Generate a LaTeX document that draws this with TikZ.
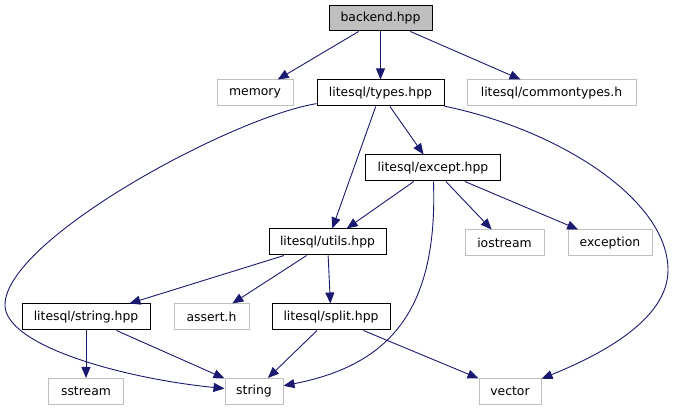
\documentclass[tikz,border=0pt]{standalone}
\usepackage{fontspec}
\setmainfont{DejaVu Sans}
\usepackage{tikz}
\usetikzlibrary{arrows.meta}
\definecolor{edgeblue}{HTML}{191970}
\definecolor{extgray}{HTML}{BFBFBF}
\tikzset{
  hfile/.style={draw=black, line width=1pt, minimum height=26pt, inner sep=0pt,
    font=\fontsize{12.4}{14}\selectfont, fill=white},
  extfile/.style={hfile, draw=extgray},
  rootfile/.style={hfile, fill=extgray},
  dep/.style={-{Triangle[length=11pt,width=9pt]}, line width=0.9pt, draw=edgeblue},
}
\begin{document}
\begin{tikzpicture}[x=1pt,y=-1pt]
\useasboundingbox (0,0) rectangle (678,411);
% row 1
\node[rootfile, minimum width=103pt, minimum height=25pt] (backend) at (380.5,18.5) {backend.hpp};
% row 2
\node[extfile, minimum width=76pt] (memory) at (255,93) {memory};
\node[hfile, minimum width=127pt] (types) at (380.5,93) {litesql/types.hpp};
\node[extfile, minimum width=169pt] (commontypes) at (551.5,93) {litesql/commontypes.h};
% row 3
\node[hfile, minimum width=135pt] (except) at (433,168) {litesql/except.hpp};
% row 4
\node[hfile, minimum width=117pt] (utils) at (327.5,242) {litesql/utils.hpp};
\node[extfile, minimum width=79pt] (iostream) at (504.5,243) {iostream};
\node[extfile, minimum width=84pt] (exception) at (610,243) {exception};
% row 5
\node[hfile, minimum width=128pt] (strhpp) at (86,317) {litesql/string.hpp};
\node[extfile, minimum width=75pt] (assert) at (211.5,317) {assert.h};
\node[hfile, minimum width=118pt] (split) at (331,317) {litesql/split.hpp};
% row 6
\node[extfile, minimum width=75pt] (sstream) at (86,391.5) {sstream};
\node[extfile, minimum width=58pt] (string) at (254,391.5) {string};
\node[extfile, minimum width=62pt] (vector) at (510,391.5) {vector};
% includes
\draw[dep] (backend) -- (memory);
\draw[dep] (backend) -- (types);
\draw[dep] (backend) -- (commontypes);
\draw[dep] (types) .. controls (230,118) and (5,240) .. (5,305)
  .. controls (5,345) and (120,378) .. (string);
\draw[dep] (types) -- (utils);
\draw[dep] (types) -- (except);
\draw[dep] (types) .. controls (560,130) and (668,200) .. (668,270)
  .. controls (668,320) and (600,355) .. (vector);
\draw[dep] (except) -- (utils);
\draw[dep] (except) .. controls (438,310) and (390,365) .. (string);
\draw[dep] (except) -- (iostream);
\draw[dep] (except) -- (exception);
\draw[dep] (utils) -- (strhpp);
\draw[dep] (utils) -- (assert);
\draw[dep] (utils) -- (split);
\draw[dep] (strhpp) -- (sstream);
\draw[dep] (strhpp) -- (string);
\draw[dep] (split) -- (string);
\draw[dep] (split) -- (vector);
\end{tikzpicture}
\end{document}
